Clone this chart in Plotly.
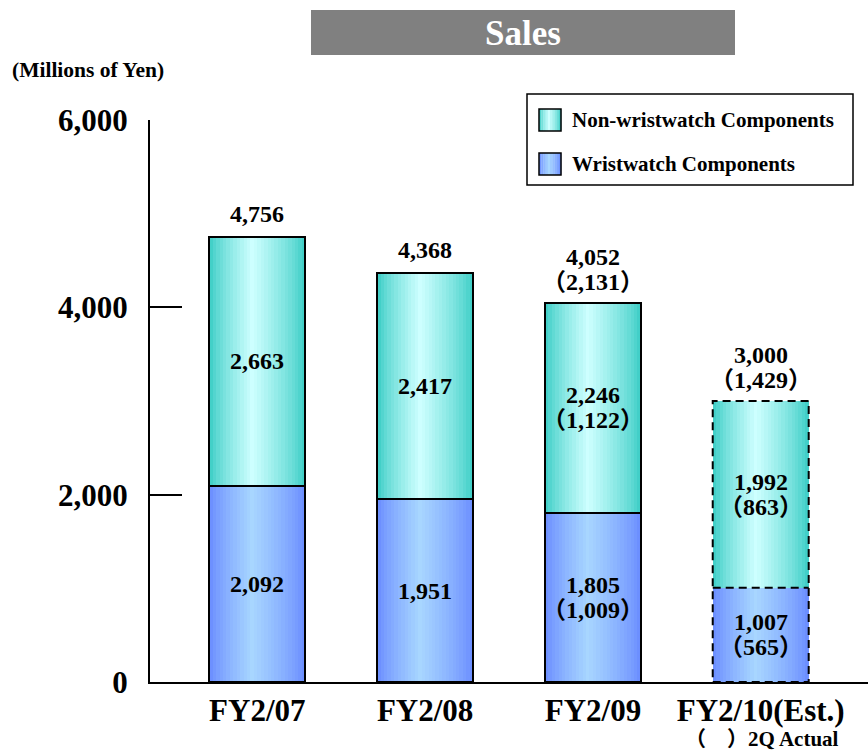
import plotly.graph_objects as go

# ---------------- data ----------------
categories = ["FY2/07", "FY2/08", "FY2/09", "FY2/10(Est.)"]
wrist = [2092, 1951, 1805, 1007]
nonwrist = [2663, 2417, 2246, 1992]
total = [4756, 4368, 4052, 3000]
wrist_2q = [None, None, 1009, 565]
nonwrist_2q = [None, None, 1122, 863]
total_2q = [None, None, 2131, 1429]
estimate = [False, False, False, True]
y_ticks = [0, 2000, 4000, 6000]

# ---------------- layout constants ----------------
W, H = 868, 750
L, R, T, B = 150, 0, 120, 68
PW, PH = W - L - R, H - T - B
pos = list(range(len(categories)))
xr = [-0.6395, 3.6394]
BW = 0.572
N = 28

FONT = "Liberation Serif, Times New Roman, Noto Sans CJK JP, serif"


def px(x):
    return (x - L) / PW


def py(y):
    return (H - B - y) / PH


def grad(c_edge, c_mid, t, peak=0.45):
    f = t / peak if t <= peak else (1 - t) / (1 - peak)
    f = max(0.0, min(1.0, f))
    f = f ** 0.8
    r = [round(c_edge[k] + (c_mid[k] - c_edge[k]) * f) for k in range(3)]
    return f"rgb({r[0]},{r[1]},{r[2]})"


CYAN_E, CYAN_M = (56, 204, 196), (206, 255, 255)
BLUE_E, BLUE_M = (104, 138, 255), (168, 214, 255)

fig = go.Figure()

# gradient strips
for series, base, ce, cm in [(wrist, None, BLUE_E, BLUE_M), (nonwrist, wrist, CYAN_E, CYAN_M)]:
    for i in range(N):
        t = (i + 0.5) / N
        sw = BW / N
        fig.add_trace(go.Bar(
            x=pos, y=series, base=base,
            width=sw * (1.25 if i < N - 1 else 1.0),
            offset=-BW / 2 + i * sw,
            marker=dict(color=grad(ce, cm, t), line=dict(width=0)),
            showlegend=False, hoverinfo="skip",
        ))

# solid outlines
solid_idx = [k for k in pos if not estimate[k]]
fig.add_trace(go.Bar(
    x=[pos[k] for k in solid_idx], y=[wrist[k] for k in solid_idx],
    width=BW, marker=dict(color="rgba(0,0,0,0)", line=dict(color="black", width=2)),
    showlegend=False, hoverinfo="skip"))
fig.add_trace(go.Bar(
    x=[pos[k] for k in solid_idx], y=[nonwrist[k] for k in solid_idx],
    base=[wrist[k] for k in solid_idx],
    width=BW, marker=dict(color="rgba(0,0,0,0)", line=dict(color="black", width=2)),
    showlegend=False, hoverinfo="skip"))

# dashed outline for estimate
for k in pos:
    if estimate[k]:
        x0, x1 = pos[k] - BW / 2, pos[k] + BW / 2
        top = wrist[k] + nonwrist[k]
        fig.add_trace(go.Scatter(
            x=[x0, x1, x1, x0, x0, None, x0, x1],
            y=[0, 0, top, top, 0, None, wrist[k], wrist[k]],
            mode="lines", line=dict(color="black", width=2, dash="8px,5px"),
            showlegend=False, hoverinfo="skip"))

# value labels
lab_font = dict(family=FONT, size=24, color="black")
ann = []


def fmt(v):
    return f"{v:,}"


def lab(x, y, text, ys=0, ya="middle"):
    ann.append(dict(x=x, y=y, text=f"<b>{text}</b>", showarrow=False, font=lab_font,
                    xanchor="center", yanchor=ya, yshift=ys))


for k in pos:
    yc = wrist[k] / 2
    if wrist_2q[k] is None:
        lab(pos[k], yc, fmt(wrist[k]))
    else:
        lab(pos[k], yc, fmt(wrist[k]), 12.5)
        lab(pos[k], yc, f"（{fmt(wrist_2q[k])}）", -12.5)
    yc = wrist[k] + nonwrist[k] / 2
    if nonwrist_2q[k] is None:
        lab(pos[k], yc, fmt(nonwrist[k]))
    else:
        lab(pos[k], yc, fmt(nonwrist[k]), 12.5)
        lab(pos[k], yc, f"（{fmt(nonwrist_2q[k])}）", -12.5)
    top = wrist[k] + nonwrist[k]
    if total_2q[k] is None:
        lab(pos[k], top, fmt(total[k]), 8, "bottom")
    else:
        lab(pos[k], top, f"（{fmt(total_2q[k])}）", 6, "bottom")
        lab(pos[k], top, fmt(total[k]), 31, "bottom")


def pann(x, y, text, size, color="black", xa="center"):
    ann.append(dict(xref="paper", yref="paper", x=px(x), y=py(y), text=f"<b>{text}</b>", showarrow=False,
                    xanchor=xa, yanchor="middle", font=dict(family=FONT, size=size, color=color)))


pann(523, 33, "Sales", 35, "white")
pann(10, 70, "(Millions of Yen)", 21.5, xa="left")
pann(762, 739, "（　）2Q Actual", 21)

# legend (manual)
leg_items = [("Non-wristwatch Components", CYAN_E, CYAN_M, 120), ("Wristwatch Components", BLUE_E, BLUE_M, 164)]
shapes = [
    dict(type="rect", xref="paper", yref="paper", x0=px(311), x1=px(735), y0=py(55), y1=py(10),
         fillcolor="#808080", line=dict(width=0), layer="below"),
    dict(type="rect", xref="paper", yref="paper", x0=px(527), x1=px(853), y0=py(185), y1=py(94),
         fillcolor="white", line=dict(color="black", width=1.5), layer="below"),
]
for name, ce, cm, yc in leg_items:
    n = 10
    sx0, sx1 = 539, 561
    for i in range(n):
        a = sx0 + (sx1 - sx0) * i / n
        b = sx0 + (sx1 - sx0) * (i + 1) / n
        shapes.append(dict(type="rect", xref="paper", yref="paper", x0=px(a), x1=px(b + 0.3),
                           y0=py(yc + 11), y1=py(yc - 11), fillcolor=grad(ce, cm, (i + 0.5) / n),
                           line=dict(width=0)))
    shapes.append(dict(type="rect", xref="paper", yref="paper", x0=px(sx0), x1=px(sx1),
                       y0=py(yc + 11), y1=py(yc - 11), line=dict(color="black", width=1.5)))
    pann(570, yc, name, 21, xa="left")

fig.update_layout(
    width=W, height=H, margin=dict(l=L, r=R, t=T, b=B),
    paper_bgcolor="white", plot_bgcolor="white",
    barmode="overlay", bargap=0, showlegend=False,
    annotations=ann, shapes=shapes,
    xaxis=dict(range=xr, tickvals=pos, ticktext=[f"<b>{c}</b>" for c in categories],
               showline=True, linecolor="black", linewidth=2, ticks="", showgrid=False, zeroline=False,
               tickfont=dict(family=FONT, size=31, color="black"), fixedrange=True),
    yaxis=dict(range=[0, 6000], tickvals=y_ticks, ticktext=[f"<b>{v:,}</b>" for v in y_ticks],
               showline=True, linecolor="black", linewidth=2, ticks="inside", ticklen=32, tickwidth=2,
               tickcolor="black", showgrid=False, zeroline=False, ticklabelstandoff=14,
               tickfont=dict(family=FONT, size=31, color="black"), fixedrange=True),
)

fig.write_html("out.html", config={"displayModeBar": False},
               post_script="document.body.style.margin='0';")
